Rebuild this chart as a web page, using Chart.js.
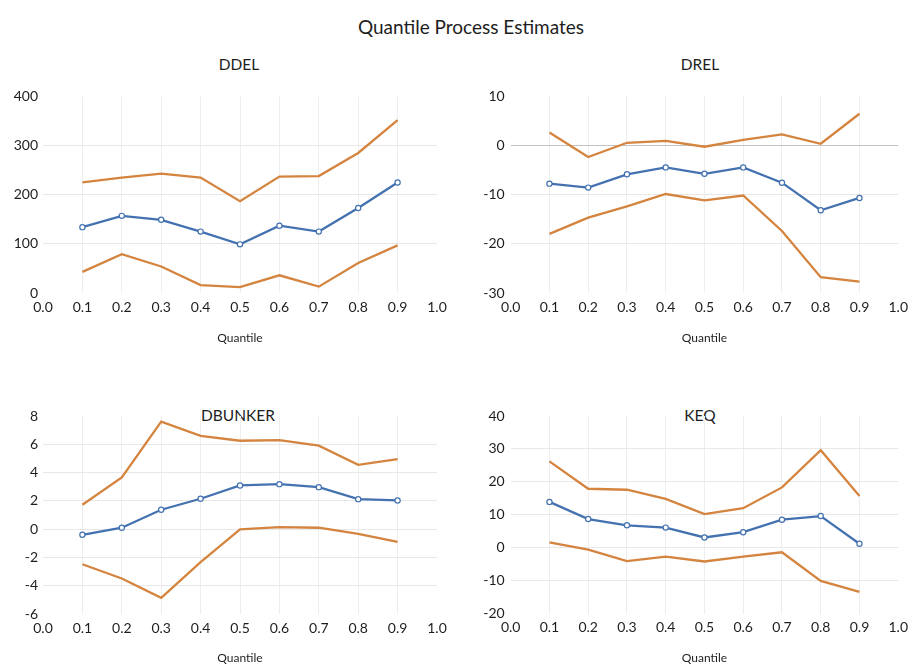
<!DOCTYPE html>
<html>
<head>
<meta charset="utf-8">
<script src="https://cdn.jsdelivr.net/npm/chart.js@4.4.1/dist/chart.umd.min.js"></script>
<style>
  body { margin: 0; width: 914px; height: 666px; position: relative; overflow: hidden; background: #fff; font-family: Lato, "Liberation Sans", sans-serif; color: #1e1e1e; }
  .heading { position: absolute; transform: translate(-50%, -50%); white-space: nowrap; }
  canvas { position: absolute; }
</style>
</head>
<body>
<div class="heading" style="left:471px; top:26px; font-size:19px;">Quantile Process Estimates</div>
<div class="heading" style="left:239px; top:64px; font-size:15.5px;">DDEL</div>
<div class="heading" style="left:700px; top:64px; font-size:15.5px;">DREL</div>
<div class="heading" style="left:238px; top:415px; font-size:15.5px;">DBUNKER</div>
<div class="heading" style="left:700px; top:415px; font-size:15.5px;">KEQ</div>

<canvas id="cDDEL" width="457" height="270" style="left:0px; top:80px;"></canvas>
<canvas id="cDREL" width="454" height="270" style="left:460px; top:80px;"></canvas>
<canvas id="cDBUNKER" width="457" height="270" style="left:0px; top:400px;"></canvas>
<canvas id="cKEQ" width="454" height="270" style="left:460px; top:400px;"></canvas>

<script>
// Quantile levels at which the process is estimated
const quantiles = [0.1, 0.2, 0.3, 0.4, 0.5, 0.6, 0.7, 0.8, 0.9];
// Horizontal axis tick positions
const xTicks = [0.0, 0.1, 0.2, 0.3, 0.4, 0.5, 0.6, 0.7, 0.8, 0.9, 1.0];

// DDEL: estimate with lower / upper confidence band
const ddelEstimate = [134, 157, 149, 125, 99, 137, 125, 173, 225];
const ddelUpper    = [225, 235, 243, 235, 187, 237, 238, 285, 352];
const ddelLower    = [43, 79, 54, 16, 12, 36, 13, 61, 97];
const ddelTicks    = [0, 100, 200, 300, 400];

// DREL
const drelEstimate = [-7.8, -8.6, -5.9, -4.5, -5.8, -4.5, -7.6, -13.2, -10.7];
const drelUpper    = [2.6, -2.4, 0.5, 0.9, -0.3, 1.1, 2.2, 0.3, 6.4];
const drelLower    = [-18.0, -14.7, -12.4, -9.9, -11.2, -10.2, -17.4, -26.8, -27.7];
const drelTicks    = [-30, -20, -10, 0, 10];

// DBUNKER
const dbunkerEstimate = [-0.4, 0.1, 1.37, 2.15, 3.09, 3.18, 2.97, 2.12, 2.03];
const dbunkerUpper    = [1.72, 3.66, 7.6, 6.6, 6.25, 6.3, 5.9, 4.55, 4.95];
const dbunkerLower    = [-2.48, -3.49, -4.86, -2.33, -0.02, 0.14, 0.1, -0.33, -0.9];
const dbunkerTicks    = [-6, -4, -2, 0, 2, 4, 6, 8];

// KEQ
const keqEstimate = [13.9, 8.7, 6.8, 6.1, 3.1, 4.7, 8.5, 9.6, 1.2];
const keqUpper    = [26.2, 17.9, 17.6, 14.8, 10.2, 12.0, 18.3, 29.6, 15.7];
const keqLower    = [1.6, -0.6, -4.1, -2.7, -4.2, -2.7, -1.4, -10.1, -13.4];
const keqTicks    = [-20, -10, 0, 10, 20, 30, 40];

const BLUE = '#4472b0';
const ORANGE = '#d4843f';
const TEXT = '#1e1e1e';
const tickFont = { family: 'Lato, "Liberation Sans", sans-serif', size: 14 };

function points(values) {
  return quantiles.map((q, i) => ({ x: q, y: values[i] }));
}

function drawPanel(canvasId, estimate, lower, upper, yTicks, geo) {
  const yMin = yTicks[0], yMax = yTicks[yTicks.length - 1];
  new Chart(document.getElementById(canvasId), {
    type: 'line',
    data: {
      datasets: [
        { data: points(upper), borderColor: ORANGE, borderWidth: 2.3, pointRadius: 0, tension: 0 },
        { data: points(lower), borderColor: ORANGE, borderWidth: 2.3, pointRadius: 0, tension: 0 },
        { data: points(estimate), borderColor: BLUE, borderWidth: 2.3, tension: 0,
          pointRadius: 2.6, pointBackgroundColor: '#ffffff', pointBorderColor: BLUE, pointBorderWidth: 1.2 }
      ]
    },
    options: {
      responsive: false,
      animation: false,
      devicePixelRatio: 1,
      layout: { padding: { top: geo.padTop, right: geo.padRight, bottom: 0, left: 0 } },
      plugins: { legend: { display: false }, tooltip: { enabled: false } },
      scales: {
        x: {
          type: 'linear',
          min: 0, max: 1,
          afterBuildTicks: s => { s.ticks = xTicks.map(v => ({ value: v })); },
          afterFit: s => { s.height = geo.xHeight; },
          ticks: { callback: v => Number(v).toFixed(1), padding: 6, color: TEXT, font: tickFont, maxRotation: 0, autoSkip: false },
          grid: {
            drawTicks: false,
            color: c => (c.tick && (c.tick.value === 0 || c.tick.value === 1)) ? 'rgba(0,0,0,0)' : '#eeeeee'
          },
          border: { display: false },
          title: { display: true, text: 'Quantile', color: TEXT, font: { family: tickFont.family, size: 12 }, padding: { top: 0, bottom: 4.8 } }
        },
        y: {
          min: yMin, max: yMax,
          afterBuildTicks: s => { s.ticks = yTicks.map(v => ({ value: v })); },
          afterFit: s => { s.width = geo.yWidth; },
          ticks: { padding: geo.yPad, color: TEXT, font: tickFont },
          grid: {
            drawTicks: false,
            color: c => {
              const v = c.tick ? c.tick.value : null;
              if (v === yMin || v === yMax) return 'rgba(0,0,0,0)';
              if (v === 0 && geo.zeroAxis) return '#c4c4c4';
              return '#e8e8e8';
            }
          },
          border: { display: false }
        }
      }
    }
  });
}

drawPanel('cDDEL', ddelEstimate, ddelLower, ddelUpper, ddelTicks,
  { padTop: 16.5, padRight: 20, xHeight: 57, yWidth: 43, yPad: 5, zeroAxis: false });
drawPanel('cDREL', drelEstimate, drelLower, drelUpper, drelTicks,
  { padTop: 16, padRight: 10.4, xHeight: 57, yWidth: 50.7, yPad: 6, zeroAxis: true });
drawPanel('cDBUNKER', dbunkerEstimate, dbunkerLower, dbunkerUpper, dbunkerTicks,
  { padTop: 16, padRight: 20, xHeight: 56, yWidth: 43, yPad: 5, zeroAxis: false });
drawPanel('cKEQ', keqEstimate, keqLower, keqUpper, keqTicks,
  { padTop: 16, padRight: 10.4, xHeight: 56.5, yWidth: 50.7, yPad: 6, zeroAxis: false });
</script>
</body>
</html>
